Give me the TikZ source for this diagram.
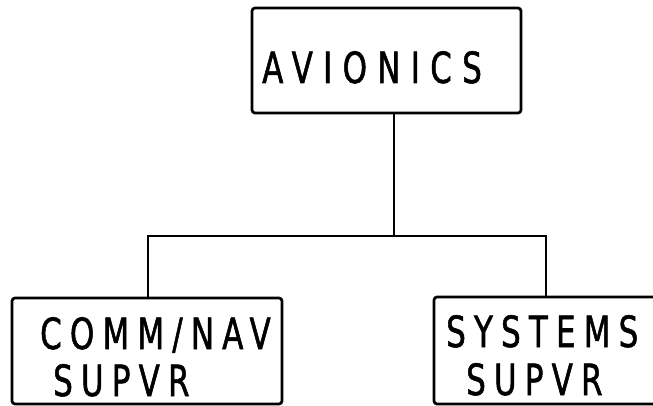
\documentclass[tikz,border=0pt]{standalone}
\usepackage{fontspec}
\newfontfamily\bigfont[FakeStretch=0.72,FakeBold=1.2,LetterSpace=24]{DejaVu Sans}
\newfontfamily\smallfont[FakeStretch=0.72,FakeBold=1.2,LetterSpace=19]{DejaVu Sans}
\begin{document}
\begin{tikzpicture}[x=1pt,y=-1pt]
\tikzset{
  box/.style={draw=black, line width=2.7pt, rounded corners=3pt, inner sep=0pt},
  conn/.style={draw=black, line width=2.4pt},
  bigtext/.style={anchor=base west, inner sep=0pt, font=\bigfont\fontsize{43}{43}\selectfont},
  smalltext/.style={anchor=base west, inner sep=0pt, font=\smallfont\fontsize{43}{43}\selectfont}
}
\useasboundingbox (0,0) rectangle (653,406);
\fill[white] (0,0) rectangle (653,406);
\clip (0,0) rectangle (653,406);
% boxes
\node[box, minimum width=269pt, minimum height=105pt] (avionics) at (386.5,60.5) {};
\node[box, minimum width=270pt, minimum height=106pt] (comm) at (147,351) {};
\node[box, minimum width=228pt, minimum height=107pt] (systems) at (548,350.5) {};
% texts
\node[bigtext] (tav) at (262,83) {AVIONICS};
\node[smalltext] (tcomm) at (40,349) {COMM/NAV};
\node[smalltext] (tsup1) at (53,396) {SUPVR};
\node[smalltext] (tsys) at (446,347) {SYSTEMS};
\node[smalltext] (tsup2) at (466,395) {SUPVR};
% connectors
\coordinate (j) at (394,236);
\coordinate (jl) at (148,236);
\coordinate (jr) at (546,236);
\draw[conn] (j |- avionics.south) -- (j);
\draw[conn, line cap=rect] (jl |- comm.north) -- (jl) -- (jr) -- (jr |- systems.north);
\end{tikzpicture}
\end{document}
